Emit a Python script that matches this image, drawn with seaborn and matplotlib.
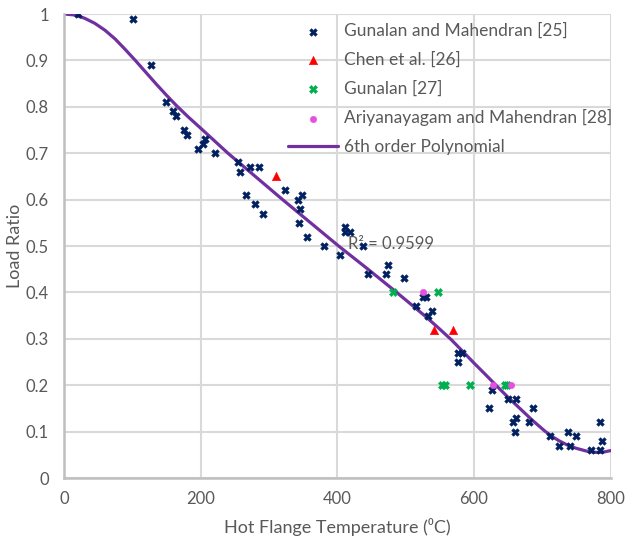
import numpy as np
import pandas as pd
import matplotlib
matplotlib.use("Agg")
import matplotlib.pyplot as plt
import seaborn as sns

# Gunalan and Mahendran [25]
gm_temp = [21, 101, 127, 150, 159, 164, 175, 180, 196, 204, 207, 221, 255, 258, 272, 285,
           267, 279, 292, 323, 343, 348, 346, 344, 355, 380, 404, 411, 412, 418, 437, 445,
           471, 474, 497, 516, 526, 530, 538, 533, 577, 583, 577, 627, 650, 662, 622, 686,
           662, 658, 660, 681, 712, 724, 738, 740, 749, 772, 784, 784, 788]
gm_ratio = [1.00, 0.99, 0.89, 0.81, 0.79, 0.78, 0.75, 0.74, 0.71, 0.72, 0.73, 0.70, 0.68, 0.66, 0.67, 0.67,
            0.61, 0.59, 0.57, 0.62, 0.60, 0.61, 0.58, 0.55, 0.52, 0.50, 0.48, 0.54, 0.53, 0.53, 0.50, 0.44,
            0.44, 0.46, 0.43, 0.37, 0.39, 0.39, 0.36, 0.35, 0.27, 0.27, 0.25, 0.19, 0.17, 0.17, 0.15, 0.15,
            0.13, 0.12, 0.10, 0.12, 0.09, 0.07, 0.10, 0.07, 0.09, 0.06, 0.06, 0.12, 0.08]

# Chen et al. [26]
chen_temp = [310, 542, 570]
chen_ratio = [0.65, 0.32, 0.32]

# Gunalan [27]
gun_temp = [481, 548, 554, 558, 594, 645, 649]
gun_ratio = [0.40, 0.40, 0.20, 0.20, 0.20, 0.20, 0.20]

# Ariyanayagam and Mahendran [28]
am_temp = [526, 628, 654]
am_ratio = [0.40, 0.20, 0.20]

# 6th order polynomial trendline
poly_temp = [0, 15, 30, 45, 60, 75, 90, 105, 120, 135, 150, 165, 182, 200, 220, 240,
             280, 320, 361, 402, 445, 487, 527, 547, 567, 585, 600, 617, 633, 650, 668,
             686, 704, 715, 725, 737, 750, 765, 780, 790, 800]
poly_ratio = [1.000, 0.998, 0.991, 0.980, 0.965, 0.946, 0.923, 0.899, 0.874, 0.849, 0.825,
              0.802, 0.778, 0.754, 0.727, 0.700, 0.650, 0.600, 0.550, 0.500, 0.450, 0.400,
              0.351, 0.325, 0.298, 0.271, 0.248, 0.223, 0.199, 0.174, 0.149, 0.124, 0.101,
              0.089, 0.080, 0.071, 0.064, 0.058, 0.055, 0.056, 0.059]

sns.set_style("white")
plt.rcParams['font.family'] = ['Lato', 'DejaVu Sans']

fig = plt.figure(figsize=(6.25, 5.45), dpi=100)
ax = fig.add_axes([0.1024, 0.1229, 0.8744, 0.8514])

sns.scatterplot(x=gm_temp, y=gm_ratio, ax=ax, marker='X', s=30, color='#002060',
                edgecolor='#002060', linewidth=0.4, label='Gunalan and Mahendran [25]', zorder=3)
sns.scatterplot(x=chen_temp, y=chen_ratio, ax=ax, marker='^', s=38, color='#ff0000',
                edgecolor='#ff0000', linewidth=0.3, label='Chen et al. [26]', zorder=3)
sns.scatterplot(x=gun_temp, y=gun_ratio, ax=ax, marker='X', s=34, color='#00b050',
                edgecolor='#00b050', linewidth=0.4, label='Gunalan [27]', zorder=3)
sns.scatterplot(x=am_temp, y=am_ratio, ax=ax, marker='o', s=22, color='#e64fe0',
                edgecolor='#e64fe0', linewidth=0.3, label='Ariyanayagam and Mahendran [28]', zorder=3)
sns.lineplot(x=poly_temp, y=poly_ratio, ax=ax, sort=False, estimator=None, color='#7030a0',
             lw=2.3, label='6th order Polynomial', zorder=2.5)

ax.set_xlim(0, 800)
ax.set_ylim(0, 1)

ax.text(479, 0.505, 'R² = 0.9599', fontsize=12, color='#595959', ha='center', va='center', zorder=5)

ax.set_xticks([0, 200, 400, 600, 800])
ax.set_yticks(np.arange(0, 1.01, 0.1))
ax.set_yticklabels(['0', '0.1', '0.2', '0.3', '0.4', '0.5', '0.6', '0.7', '0.8', '0.9', '1'])
ax.grid(True, color='#d9d9d9', lw=1.5)
ax.set_axisbelow(True)
for s in ['top', 'right']:
    ax.spines[s].set_visible(False)
for s in ['left', 'bottom']:
    ax.spines[s].set_color('#bfbfbf')
    ax.spines[s].set_linewidth(1.8)
ax.tick_params(axis='both', length=0, labelsize=12, labelcolor='#595959')
ax.tick_params(axis='y', pad=11)
ax.tick_params(axis='x', pad=9)

ax.set_xlabel('Hot Flange Temperature (⁰C)', fontsize=13, color='#595959', labelpad=8)
ax.set_ylabel('Load Ratio', fontsize=13, color='#595959', labelpad=2)

leg = ax.legend(loc='upper left', bbox_to_anchor=(288 / 625, 1 - 23 / 545),
                bbox_transform=fig.transFigure, frameon=False, fontsize=12.5,
                labelcolor='#595959', handlelength=2.9, handletextpad=0.3, labelspacing=0.72,
                borderpad=0, borderaxespad=0)

fig.savefig('out.png', dpi=100)
